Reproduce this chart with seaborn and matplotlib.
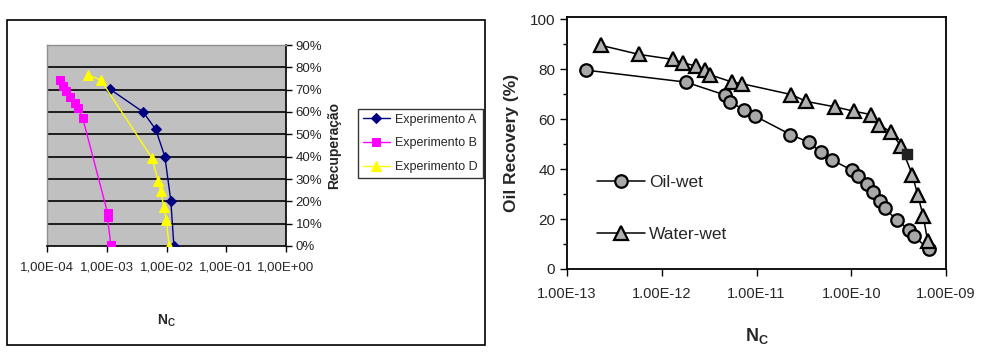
import matplotlib
matplotlib.use("Agg")
import matplotlib.pyplot as plt
import seaborn as sns
from matplotlib.patches import Rectangle

# --- dados ---
# painel esquerdo: Recuperação x Nc
exp_a_nc = [1.15e-3, 4.06e-3, 6.6e-3, 9.4e-3, 1.18e-2, 1.33e-2]
exp_a_rec = [70.1, 60.0, 52.2, 40.0, 20.3, 0.0]

exp_b_nc = [1.63e-4, 1.83e-4, 2.06e-4, 2.40e-4, 2.91e-4, 3.27e-4, 3.96e-4, 1.03e-3, 1.03e-3, 1.17e-3]
exp_b_rec = [74.3, 71.8, 69.6, 66.9, 64.2, 61.9, 57.3, 14.9, 12.8, 0.4]

exp_d_nc = [4.93e-4, 7.93e-4, 5.75e-3, 7.25e-3, 8.0e-3, 9.0e-3, 9.9e-3, 1.11e-2]
exp_d_rec = [76.6, 74.3, 39.3, 29.1, 24.6, 17.6, 11.6, 0.0]

left_xticks = [1e-4, 1e-3, 1e-2, 1e-1, 1e0]
left_xlabels = ["1,00E-04", "1,00E-03", "1,00E-02", "1,00E-01", "1,00E+00"]

# painel direito: Oil recovery x Nc
oil_nc = [1.59e-13, 1.80e-12, 4.67e-12, 5.23e-12, 7.46e-12, 9.75e-12, 2.28e-11, 3.57e-11,
          4.75e-11, 6.3e-11, 1.02e-10, 1.19e-10, 1.46e-10, 1.71e-10, 2.01e-10, 2.27e-10,
          3.01e-10, 4.10e-10, 4.59e-10, 6.56e-10]
oil_rec = [79.7, 74.9, 69.7, 66.8, 63.9, 61.2, 53.9, 50.8, 46.8, 43.6, 39.6, 37.2, 34.2,
           30.7, 27.4, 24.5, 19.5, 15.8, 13.1, 8.0]

water_nc = [2.31e-13, 5.77e-13, 1.31e-12, 1.69e-12, 2.32e-12, 2.89e-12, 3.21e-12, 5.53e-12,
            6.95e-12, 2.34e-11, 3.32e-11, 6.7e-11, 1.08e-10, 1.61e-10, 1.96e-10, 2.62e-10,
            3.35e-10, 4.41e-10, 5.02e-10, 5.77e-10, 6.40e-10]
water_rec = [89.6, 86.0, 84.0, 82.6, 81.3, 79.7, 77.9, 74.9, 74.3, 69.9, 67.2, 65.0, 63.2,
             61.9, 57.9, 54.9, 49.2, 37.8, 29.8, 21.1, 11.1]

square_nc = [3.85e-10]
square_rec = [45.9]

right_xticks = [1e-13, 1e-12, 1e-11, 1e-10, 1e-9]
right_xlabels = ["1.00E-13", "1.00E-12", "1.00E-11", "1.00E-10", "1.00E-09"]

sns.set_theme(style="white")
plt.rcParams['font.family'] = ['Liberation Sans', 'DejaVu Sans']

fig = plt.figure(figsize=(9.84, 3.54), dpi=100)

# moldura do gráfico do Excel
fig.patches.append(Rectangle((7 / 984, 1 - 345 / 354), 478 / 984, 325 / 354,
                             transform=fig.transFigure, fill=False,
                             edgecolor="black", linewidth=1.2))

# ---------- painel esquerdo ----------
ax1 = fig.add_axes([47 / 984, 1 - 246 / 354, 239 / 984, 201 / 354])
ax1.set_facecolor("#c0c0c0")
for v in range(10, 100, 10):
    ax1.axhline(v, color="black", linewidth=1.2, zorder=1)

sns.lineplot(x=exp_a_nc, y=exp_a_rec, sort=False, estimator=None, ax=ax1,
             color="#000080", marker="D", markersize=5.5, markeredgecolor="#000080",
             linewidth=1, label="Experimento A", zorder=3)
sns.lineplot(x=exp_b_nc, y=exp_b_rec, sort=False, estimator=None, ax=ax1,
             color="#ff00ff", marker="s", markersize=5.5, markeredgecolor="#ff00ff",
             linewidth=1, label="Experimento B", zorder=3)
sns.lineplot(x=exp_d_nc, y=exp_d_rec, sort=False, estimator=None, ax=ax1,
             color="#ffff00", marker="^", markersize=6.5, markeredgecolor="#ffff00",
             linewidth=1, label="Experimento D", zorder=3)

ax1.set_xscale("log")
ax1.set_xlim(1e-4, 1e0)
ax1.set_ylim(0, 90)
ax1.set_xticks(left_xticks)
ax1.set_xticklabels(left_xlabels, fontsize=9.5)
ax1.minorticks_off()
ax1.set_yticks(range(0, 100, 10))
ax1.set_yticklabels([f"{v}%" for v in range(0, 100, 10)], fontsize=9.5)
ax1.yaxis.tick_right()
ax1.tick_params(axis="x", direction="out", length=4, width=1, color="black", pad=7, bottom=True)
ax1.tick_params(axis="y", direction="out", length=4, width=1, color="black", pad=3, right=True)
for s in ["top", "left"]:
    ax1.spines[s].set_color("#909090")
    ax1.spines[s].set_linewidth(1)
for s in ["bottom", "right"]:
    ax1.spines[s].set_color("black")
    ax1.spines[s].set_linewidth(1.2)
ax1.set_xlabel("N$_\\mathregular{C}$", fontsize=10, fontweight="bold", labelpad=28)
ax1.set_ylabel("Recuperação", fontsize=10, fontweight="bold", labelpad=3.5, rotation=90)
ax1.yaxis.set_label_position("right")
leg1 = ax1.legend(loc="center left", bbox_to_anchor=(1.30, 0.51), fontsize=9,
                  frameon=True, fancybox=False, edgecolor="black", borderpad=0.4,
                  handlelength=2.2, handletextpad=0.4, labelspacing=0.95,
                  borderaxespad=0)
leg1.get_frame().set_linewidth(1)

# ---------- painel direito ----------
ax2 = fig.add_axes([567 / 984, 1 - 269 / 354, 379 / 984, 252 / 354])

sns.lineplot(x=oil_nc, y=oil_rec, sort=False, estimator=None, ax=ax2,
             color="black", linewidth=1.1, marker="o", markersize=9,
             markerfacecolor="#a8a8a8", markeredgecolor="black", markeredgewidth=1.6,
             label="Oil-wet", zorder=3)
sns.lineplot(x=water_nc, y=water_rec, sort=False, estimator=None, ax=ax2,
             color="black", linewidth=1.1, marker="^", markersize=10,
             markerfacecolor="#b0b0b0", markeredgecolor="black", markeredgewidth=1.6,
             label="Water-wet", zorder=3)
ax2.scatter(square_nc, square_rec, marker="s", s=60, color="#202020", zorder=4)

ax2.set_xscale("log")
ax2.set_xlim(1e-13, 1e-9)
ax2.set_ylim(0, 101)
ax2.set_xticks(right_xticks)
ax2.set_xticklabels(right_xlabels, fontsize=10.5)
ax2.minorticks_off()
ax2.set_yticks(range(0, 101, 20))
ax2.set_yticks(range(10, 100, 20), minor=True)
ax2.set_yticklabels([str(v) for v in range(0, 101, 20)], fontsize=11)
ax2.tick_params(axis="x", direction="out", length=5, width=1, color="black", pad=8, bottom=True)
ax2.tick_params(axis="y", which="major", direction="out", length=5, width=1, color="black", left=True)
ax2.tick_params(axis="y", which="minor", direction="out", length=3, width=1, color="black", left=True)
for s in ax2.spines.values():
    s.set_color("black")
    s.set_linewidth(1.3)
ax2.set_ylabel("Oil Recovery (%)", fontsize=12.5, fontweight="bold", labelpad=8)
ax2.set_xlabel("N$_\\mathregular{C}$", fontsize=13, fontweight="bold", labelpad=18)
ax2.legend(loc="lower left", bbox_to_anchor=(0.06, 0.08), fontsize=12.5, frameon=False,
           handlelength=2.8, labelspacing=2.1, handletextpad=0.2, borderaxespad=0)

fig.savefig("out.png", dpi=100)
